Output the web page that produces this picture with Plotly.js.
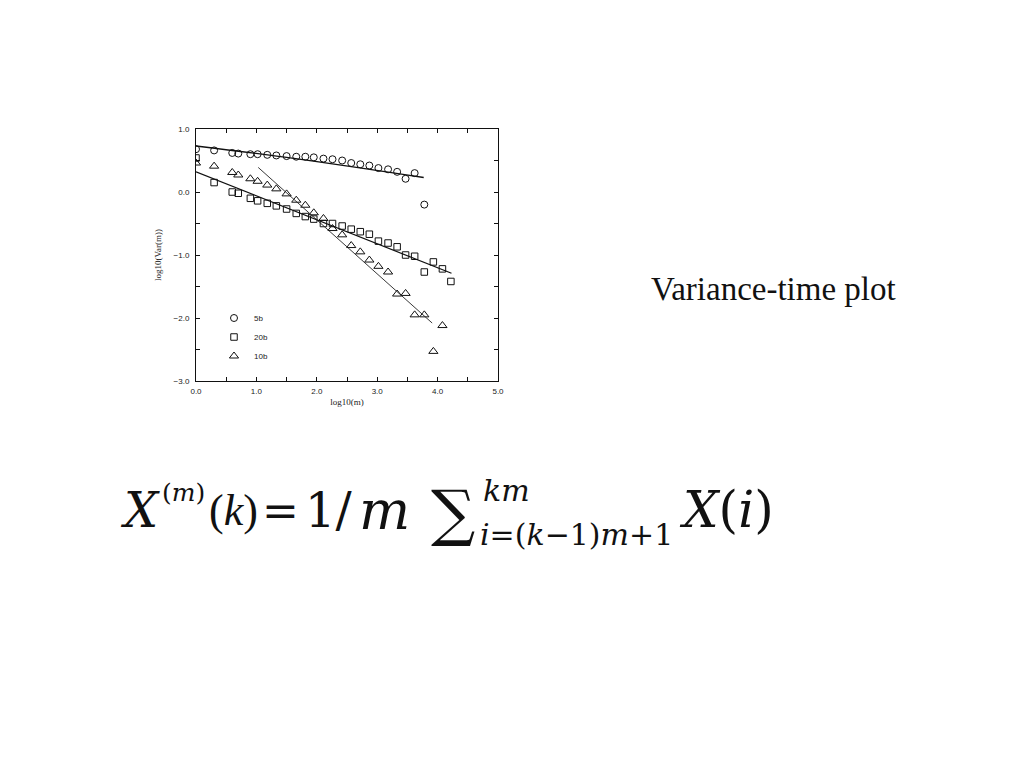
<!DOCTYPE html>
<html>
<head>
<meta charset="utf-8">
<script src="https://cdn.plot.ly/plotly-3.0.1.min.js"></script>
<style>
  html, body { margin: 0; padding: 0; background: #fff; }
  #chart { width: 1024px; height: 768px; }
</style>
</head>
<body>
<div id="chart"></div>
<script>
// ---- data ----
const x5b  = [0, 0.30, 0.60, 0.70, 0.90, 1.02, 1.18, 1.33, 1.50, 1.66, 1.81, 1.95, 2.11, 2.26, 2.42, 2.57, 2.72, 2.87, 3.02, 3.18, 3.33, 3.47, 3.62, 3.78];
const y5b  = [0.68, 0.66, 0.62, 0.61, 0.60, 0.60, 0.59, 0.58, 0.57, 0.56, 0.56, 0.55, 0.53, 0.52, 0.50, 0.46, 0.44, 0.42, 0.38, 0.36, 0.32, 0.21, 0.30, -0.20];

const x20b = [0, 0.30, 0.60, 0.70, 0.90, 1.02, 1.18, 1.33, 1.50, 1.66, 1.81, 1.95, 2.11, 2.26, 2.42, 2.57, 2.72, 2.87, 3.02, 3.18, 3.33, 3.47, 3.62, 3.78, 3.93, 4.08, 4.22];
const y20b = [0.54, 0.15, 0.00, -0.02, -0.10, -0.14, -0.18, -0.22, -0.27, -0.34, -0.39, -0.43, -0.50, -0.50, -0.54, -0.59, -0.63, -0.67, -0.78, -0.81, -0.87, -1.00, -1.02, -1.27, -1.11, -1.22, -1.42];

const x10b = [0, 0.30, 0.60, 0.70, 0.90, 1.02, 1.18, 1.33, 1.50, 1.66, 1.81, 1.95, 2.11, 2.26, 2.42, 2.57, 2.72, 2.87, 3.02, 3.18, 3.33, 3.47, 3.62, 3.78, 3.93, 4.08];
const y10b = [0.46, 0.41, 0.31, 0.27, 0.21, 0.17, 0.11, 0.05, -0.03, -0.13, -0.21, -0.33, -0.42, -0.58, -0.68, -0.85, -0.95, -1.08, -1.18, -1.27, -1.62, -1.61, -1.95, -1.95, -2.53, -2.12];

// fitted lines
const fit5bX  = [0, 1.65, 3.77];
const fit5bY  = [0.73, 0.53, 0.23];
const fit20bX = [0, 4.23];
const fit20bY = [0.32, -1.29];
const fit10bX = [1.03, 3.91];
const fit10bY = [0.39, -2.08];

const seriesNames = ['5b', '20b', '10b'];
const xTickVals = [0, 1, 2, 3, 4, 5];
const yTickVals = [-3, -2, -1, 0, 1];

const titleText = 'Variance-time plot';
const xTitle = 'log10(m)';
const yTitle = 'log10(Var(m))';

// ---- layout helpers ----
const L = 196, R = 498, T = 129, B = 381;
function px(x) { return (x - L) / (R - L); }
function py(y) { return (B - y) / (B - T); }

const mk = (sym, size) => ({ symbol: sym, size: size, color: '#111', line: { color: '#111', width: 1 } });

const traces = [
  { x: x5b,  y: y5b,  name: seriesNames[0], type: 'scatter', mode: 'markers', marker: mk('circle-open', 7) },
  { x: x20b, y: y20b, name: seriesNames[1], type: 'scatter', mode: 'markers', marker: mk('square-open', 6.5) },
  { x: x10b, y: y10b, name: seriesNames[2], type: 'scatter', mode: 'markers', marker: mk('triangle-up-open', 8) },
  { x: fit5bX,  y: fit5bY,  type: 'scatter', mode: 'lines', line: { color: '#111', width: 1.3, shape: 'spline' }, showlegend: false, hoverinfo: 'skip' },
  { x: fit20bX, y: fit20bY, type: 'scatter', mode: 'lines', line: { color: '#111', width: 1.2 }, showlegend: false, hoverinfo: 'skip' },
  { x: fit10bX, y: fit10bY, type: 'scatter', mode: 'lines', line: { color: '#222', width: 0.9 }, showlegend: false, hoverinfo: 'skip' }
];

const tickFont = { family: 'Liberation Sans, Arial, sans-serif', size: 8, color: '#222' };
const serif = 'Liberation Serif, Times New Roman, serif';
const mathFont = 'DejaVu Serif, serif';

function ann(text, x, y, size, fam) {
  return { text: text, xref: 'paper', yref: 'paper', x: px(x), y: py(y), xanchor: 'left', yanchor: 'middle',
           showarrow: false, borderpad: 0, font: { family: fam || mathFont, size: size, color: '#111' } };
}

const annotations = [
  ann(titleText, 650, 289, 33, serif),
  ann('<i>X</i>', 119, 510, 48),
  ann('(<i>m</i>)', 161, 492, 25),
  ann('(<i>k</i>)', 208, 510, 44, serif),
  ann('=', 261, 510, 44),
  ann('1/', 304, 510, 48),
  ann('<i>m</i>', 358, 510, 54),
  ann('\u2211', 430, 512, 62),
  ann('<i>km</i>', 482, 490, 30),
  ann('<i>i</i>=(<i>k</i>\u22121)<i>m</i>+1', 479, 534, 30),
  ann('<i>X</i>(<i>i</i>)', 678, 510, 50)
];

const layout = {
  width: 1024, height: 768,
  margin: { l: L, r: 1024 - R, t: T, b: 768 - B, pad: 0 },
  paper_bgcolor: '#fff', plot_bgcolor: '#fff',
  showlegend: true,
  legend: { x: px(214), y: py(337), xanchor: 'left', yanchor: 'middle', bgcolor: 'rgba(0,0,0,0)',
            font: { family: 'Liberation Sans, Arial, sans-serif', size: 8, color: '#222' }, tracegroupgap: 0 },
  xaxis: {
    range: [0, 5], tickvals: xTickVals, tickformat: '.1f', ticks: 'inside', ticklen: 4, tickcolor: '#111',
    minor: { dtick: 0.5, tick0: 0, ticks: 'inside', ticklen: 4, tickcolor: '#111', showgrid: false },
    showline: true, linecolor: '#111', linewidth: 1, mirror: 'ticks', showgrid: false, zeroline: false,
    tickfont: tickFont, ticklabelstandoff: 2,
    title: { text: xTitle, font: { family: serif, size: 9, color: '#222' }, standoff: 4 }
  },
  yaxis: {
    range: [-3, 1], tickvals: yTickVals, tickformat: '.1f', ticks: 'inside', ticklen: 4, tickcolor: '#111',
    minor: { dtick: 0.5, tick0: 0, ticks: 'inside', ticklen: 4, tickcolor: '#111', showgrid: false },
    showline: true, linecolor: '#111', linewidth: 1, mirror: 'ticks', showgrid: false, zeroline: false,
    tickfont: tickFont, ticklabelstandoff: 4,
    title: { text: yTitle, font: { family: serif, size: 9, color: '#222' }, standoff: 10 }
  },
  annotations: annotations
};

Plotly.newPlot('chart', traces, layout, { displayModeBar: false, staticPlot: true });
</script>
</body>
</html>
